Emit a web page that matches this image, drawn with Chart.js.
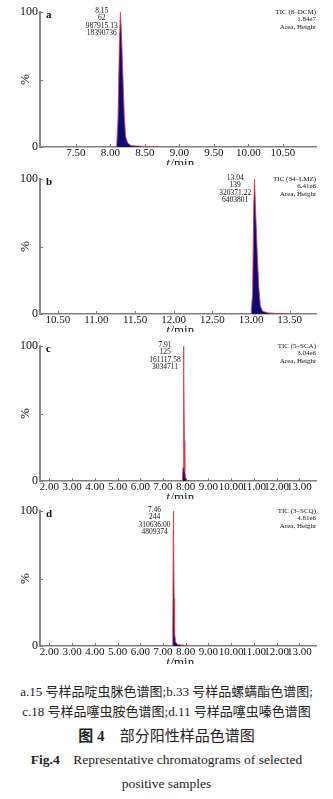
<!DOCTYPE html>
<html><head><meta charset="utf-8">
<script src="https://cdn.jsdelivr.net/npm/chart.js@4"></script>
<style>
html,body{margin:0;padding:0;background:#fff;width:333px;height:799px;overflow:hidden}
.panel{position:absolute;left:0;width:333px;height:165px}
.cap{position:absolute;left:0;width:333px;text-align:center;color:#222;font-family:"Liberation Serif","Noto Sans CJK SC",serif;white-space:nowrap}
</style></head><body>
<div class="panel" style="top:0"><canvas id="ca" width="333" height="165"></canvas></div>
<div class="panel" style="top:167px"><canvas id="cb" width="333" height="165"></canvas></div>
<div class="panel" style="top:334px"><canvas id="cc" width="333" height="165"></canvas></div>
<div class="panel" style="top:499px"><canvas id="cd" width="333" height="165"></canvas></div>
<div class="cap" style="top:684px;font-size:13px;line-height:16px">a.15 号样品啶虫脒色谱图;b.33 号样品螺螨酯色谱图;</div>
<div class="cap" style="top:704px;font-size:13px;line-height:16px">c.18 号样品噻虫胺色谱图;d.11 号样品噻虫嗪色谱图</div>
<div class="cap" style="top:727px;font-size:15px;line-height:18px"><b>图 4</b>&nbsp;&nbsp;&nbsp;&nbsp;部分阳性样品色谱图</div>
<div class="cap" style="top:752px;font-size:13.5px;line-height:16px"><b>Fig.4</b>&nbsp;&nbsp;&nbsp;&nbsp;Representative chromatograms of selected</div>
<div class="cap" style="top:776px;font-size:13.5px;line-height:16px">positive samples</div>
<script>
// ---- data ----
const yTicks = [0, 50, 100];
const yTickLabels = ['0', '', '100'];

const timesA = [8.09, 8.11, 8.13, 8.145, 8.16, 8.18, 8.20, 8.22, 8.25, 8.30, 8.45, 8.70];
const intensityA = [0, 20, 75, 100, 85, 55, 25, 8, 3, 1, 0.5, 0];
const xTicksA = [7.5, 8.0, 8.5, 9.0, 9.5, 10.0, 10.5];
const xRangeA = [6.98, 10.98];
const peakLabelA = ['8.15', '62', '987915.13', '18390736'];
const ticInfoA = ['TIC (8–DCM)', '1.84e7', 'Area, Height'];

const timesB = [13.00, 13.02, 13.035, 13.045, 13.06, 13.08, 13.10, 13.12, 13.15, 13.22, 13.35, 13.50];
const intensityB = [0, 15, 80, 100, 75, 45, 20, 6, 2, 0.8, 0.3, 0];
const xTicksB = [10.5, 11.0, 11.5, 12.0, 12.5, 13.0, 13.5];
const xRangeB = [10.27, 13.84];
const peakLabelB = ['13.04', '139', '320371.22', '6403801'];
const ticInfoB = ['TIC (34–LMZ)', '6.41e6', 'Area, Height'];

const timesC = [7.85, 7.88, 7.90, 7.91, 7.92, 7.94, 7.96, 7.99, 8.05, 8.20];
const intensityC = [0, 10, 85, 100, 80, 30, 8, 2, 0.5, 0];
const xTicksC = [2, 3, 4, 5, 6, 7, 8, 9, 10, 11, 12, 13];
const xRangeC = [1.59, 13.73];
const peakLabelC = ['7.91', '125', '161117.58', '3034711'];
const ticInfoC = ['TIC (5–SCA)', '3.04e6', 'Area, Height'];

const timesD = [7.40, 7.43, 7.45, 7.46, 7.47, 7.49, 7.51, 7.55, 7.65, 7.90, 8.00];
const intensityD = [0, 10, 85, 100, 82, 35, 10, 3, 1, 0.5, 0];
const xTicksD = [2, 3, 4, 5, 6, 7, 8, 9, 10, 11, 12, 13];
const xRangeD = [1.59, 13.73];
const peakLabelD = ['7.46', '244', '310636.00', '4809374'];
const ticInfoD = ['TIC (3–SCQ)', '4.81e6', 'Area, Height'];

// ---- drawing ----
const SERIF = '"Liberation Serif", "Times New Roman", serif';
const annot = {
  id: 'annot',
  afterDraw(chart, args, o) {
    const ctx = chart.ctx, xs = chart.scales.x, ys = chart.scales.y, ca = chart.chartArea;
    ctx.save();
    ctx.strokeStyle = '#777'; ctx.lineWidth = 1;
    xs.ticks.forEach(t => { const px = Math.round(xs.getPixelForValue(t.value)) + 0.5; ctx.beginPath(); ctx.moveTo(px, ca.bottom); ctx.lineTo(px, ca.bottom - 3); ctx.stroke(); });
    ys.ticks.forEach(t => { const py = Math.round(ys.getPixelForValue(t.value)) + 0.5; ctx.beginPath(); ctx.moveTo(ca.left, py); ctx.lineTo(ca.left + 3, py); ctx.stroke(); });
    ctx.fillStyle = '#111'; ctx.textBaseline = 'middle';
    ctx.font = 'bold 11px ' + SERIF; ctx.textAlign = 'left';
    ctx.fillText(o.letter, ca.left + 6, ca.top + 3.5);
    ctx.font = '7.5px ' + SERIF;
    const w = Math.max(...o.peak.map(s => ctx.measureText(s).width));
    const cx = xs.getPixelForValue(parseFloat(o.peak[0])) - 3 - w / 2;
    ctx.textAlign = 'center';
    o.peak.forEach((s, i) => ctx.fillText(s, cx, ca.top - 1 + i * 7.3));
    ctx.font = '7px ' + SERIF; ctx.textAlign = 'right';
    o.tic.forEach((s, i) => ctx.fillText(s, ca.right, ca.top + i * 7.5));
    ctx.font = '13px ' + SERIF;
    ctx.save(); ctx.translate(26, (ca.top + ca.bottom) / 2); ctx.rotate(-Math.PI / 2);
    ctx.textAlign = 'center'; ctx.fillText('%', 0, 0); ctx.restore();
    // x title  t/min
    ctx.textAlign = 'left';
    ctx.font = 'italic 13px ' + SERIF; const wt = ctx.measureText('t').width;
    ctx.font = '13px ' + SERIF; const wm = ctx.measureText('/min').width;
    const x0 = (ca.left + ca.right) / 2 + 2 - (wt + wm) / 2, yT = ca.bottom + 16.5;
    ctx.font = 'italic 13px ' + SERIF; ctx.fillText('t', x0, yT);
    ctx.font = '13px ' + SERIF; ctx.fillText('/min', x0 + wt + 0.5, yT);
    ctx.restore();
  }
};

function makeChart(id, times, ints, xTicks, xRange, peak, tic, letter) {
  new Chart(document.getElementById(id), {
    type: 'line',
    data: { datasets: [{
      data: times.map((t, i) => ({ x: t, y: ints[i] })),
      borderColor: 'rgba(225,60,70,0.85)', borderWidth: 1,
      backgroundColor: '#0c0c78', fill: 'origin', pointRadius: 0, tension: 0
    }] },
    options: {
      responsive: false, animation: false, devicePixelRatio: 1,
      layout: { padding: { top: 12, right: 17, left: 0, bottom: 0 } },
      plugins: { legend: { display: false }, tooltip: { enabled: false }, annot: { peak, tic, letter } },
      scales: {
        x: {
          type: 'linear', min: xRange[0], max: xRange[1],
          afterBuildTicks: s => { s.ticks = xTicks.map(v => ({ value: v })); },
          afterFit: s => { s.height = 18; },
          grid: { display: false, drawTicks: false },
          border: { display: true, color: '#808080', width: 1.5 },
          ticks: { color: '#111', font: { family: SERIF, size: 11 }, padding: 0, maxRotation: 0, autoSkip: false,
                   callback: v => v.toFixed(2) }
        },
        y: {
          min: 0, max: 100,
          afterBuildTicks: s => { s.ticks = yTicks.map(v => ({ value: v })); },
          afterFit: s => { s.width = 40; },
          grid: { display: false, drawTicks: false },
          border: { display: true, color: '#888', width: 2 },
          ticks: { color: '#111', font: { family: SERIF, size: 12 }, padding: 2,
                   callback: (v, i) => yTickLabels[yTicks.indexOf(v)] }
        }
      }
    },
    plugins: [annot]
  });
}
makeChart('ca', timesA, intensityA, xTicksA, xRangeA, peakLabelA, ticInfoA, 'a');
makeChart('cb', timesB, intensityB, xTicksB, xRangeB, peakLabelB, ticInfoB, 'b');
makeChart('cc', timesC, intensityC, xTicksC, xRangeC, peakLabelC, ticInfoC, 'c');
makeChart('cd', timesD, intensityD, xTicksD, xRangeD, peakLabelD, ticInfoD, 'd');
</script>
</body></html>
